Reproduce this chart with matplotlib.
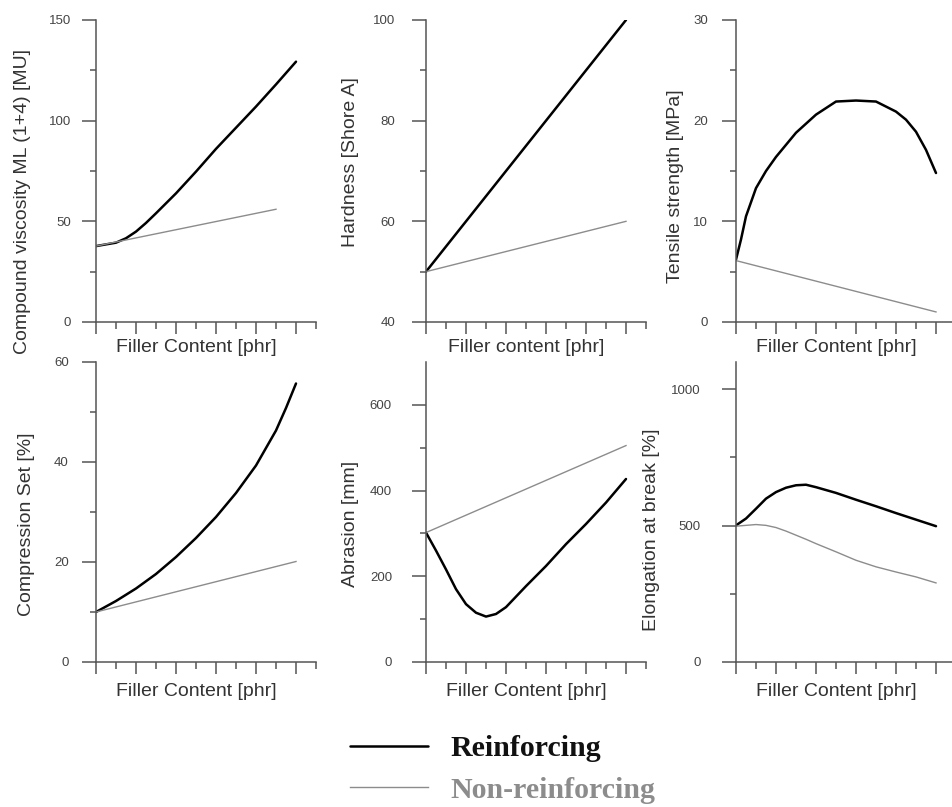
"""
Effect of reinforcing vs. non-reinforcing fillers on rubber properties
six small panels + a common legend at the bottom
"""

import numpy as np
import matplotlib
matplotlib.use('Agg')
import matplotlib.pyplot as plt
from matplotlib.ticker import FixedLocator, NullFormatter

plt.rcParams['font.family'] = ['Liberation Sans', 'DejaVu Sans']

# ---- data (filler content in arbitrary units 0..10) ----
visc_x = [0, 1, 1.5, 2, 2.5, 3, 4, 5, 6, 7, 8, 9, 10]
visc_reinf = [37.7, 39.4, 41.6, 44.9, 49.2, 54.0, 63.9, 74.7, 86.0, 96.5, 107.0, 118.0, 129.3]
visc_nonreinf_x = [0, 9]
visc_nonreinf = [37.7, 56.0]

hard_x = [0, 10]
hard_reinf = [50, 100]
hard_nonreinf = [50, 60]

tens_x = [0, 0.25, 0.5, 1, 1.5, 2, 3, 4, 5, 6, 7, 8, 8.5, 9, 9.5, 10]
tens_reinf = [6.2, 8.2, 10.5, 13.3, 15.0, 16.4, 18.8, 20.6, 21.9, 22.0, 21.9, 20.9, 20.1, 18.9, 17.1, 14.8]
tens_nonreinf_x = [0, 10]
tens_nonreinf = [6.1, 1.0]

comp_x = [0, 1, 2, 3, 4, 5, 6, 7, 8, 9, 9.5, 10]
comp_reinf = [10.0, 12.2, 14.7, 17.6, 21.0, 24.8, 29.0, 33.8, 39.3, 46.3, 50.8, 55.7]
comp_nonreinf_x = [0, 10]
comp_nonreinf = [10, 20.1]

abr_x = [0, 0.5, 1, 1.5, 2, 2.5, 3, 3.5, 4, 5, 6, 7, 8, 9, 10]
abr_reinf = [302, 260, 216, 170, 135, 115, 106, 112, 128, 177, 224, 275, 322, 372, 427]
abr_nonreinf_x = [0, 10]
abr_nonreinf = [302, 505]

elong_x = [0, 0.5, 1, 1.5, 2, 2.5, 3, 3.5, 4, 5, 6, 7, 8, 9, 10]
elong_reinf = [501, 526, 562, 599, 623, 639, 648, 650, 641, 620, 595, 571, 546, 522, 498]
elong_nonreinf = [498, 501, 504, 501, 493, 480, 465, 450, 434, 404, 373, 349, 330, 312, 290]

# ---- panel definitions ----
panels = [
    dict(ylabel="Compound viscosity ML (1+4) [MU]", xlabel="Filler Content [phr]",
         ylim=(0, 150), major=[0, 50, 100, 150], minor=[25, 75, 125],
         r=(visc_x, visc_reinf), n=(visc_nonreinf_x, visc_nonreinf),
         lab_xy=(-0.336, 0.40), pad=9),
    dict(ylabel="Hardness [Shore A]", xlabel="Filler content [phr]",
         ylim=(40, 100), major=[40, 60, 80, 100], minor=[50, 70, 90],
         r=(hard_x, hard_reinf), n=(hard_x, hard_nonreinf),
         lab_xy=(-0.345, 0.53), pad=13),
    dict(ylabel="Tensile strength [MPa]", xlabel="Filler Content [phr]",
         ylim=(0, 30), major=[0, 10, 20, 30], minor=[5, 15, 25],
         r=(tens_x, tens_reinf), n=(tens_nonreinf_x, tens_nonreinf),
         lab_xy=(-0.273, 0.45), pad=11),
    dict(ylabel="Compression Set [%]", xlabel="Filler Content [phr]",
         ylim=(0, 60), major=[0, 20, 40, 60], minor=[10, 30, 50],
         r=(comp_x, comp_reinf), n=(comp_nonreinf_x, comp_nonreinf),
         lab_xy=(-0.318, 0.46), pad=10.5),
    dict(ylabel="Abrasion [mm]", xlabel="Filler Content [phr]",
         ylim=(0, 700), major=[0, 200, 400, 600], minor=[100, 300, 500],
         r=(abr_x, abr_reinf), n=(abr_nonreinf_x, abr_nonreinf),
         lab_xy=(-0.341, 0.46), pad=15.5),
    dict(ylabel="Elongation at break [%]", xlabel="Filler Content [phr]",
         ylim=(0, 1100), major=[0, 500, 1000], minor=[250, 750],
         r=(elong_x, elong_reinf), n=(elong_x, elong_nonreinf),
         lab_xy=(-0.382, 0.44), pad=16.5),
]

W, H = 953, 807
lefts = [96, 426, 736]
rows = [(322, 302), (662, 300)]  # (pixel of y-axis bottom, height)
ax_w = 220

AXIS_COL = '#555555'
TEXT_COL = '#333333'

fig = plt.figure(figsize=(W / 100, H / 100), dpi=100)

lines = None
for i, p in enumerate(panels):
    row, col = divmod(i, 3)
    ybot, h = rows[row]
    ax = fig.add_axes([lefts[col] / W, (H - ybot) / H, ax_w / W, h / H])

    lr, = ax.plot(p['r'][0], p['r'][1], color='black', lw=1.8,
                  solid_capstyle='round', solid_joinstyle='round')
    ln, = ax.plot(p['n'][0], p['n'][1], color='#8c8c8c', lw=1.0)
    if lines is None:
        lines = (lr, ln)

    ax.set_xlim(0, 11)
    ax.set_ylim(*p['ylim'])

    for s in ['top', 'right']:
        ax.spines[s].set_visible(False)
    for s in ['left', 'bottom']:
        ax.spines[s].set_color(AXIS_COL)
        ax.spines[s].set_linewidth(1.1)

    ax.xaxis.set_major_locator(FixedLocator([0, 2, 4, 6, 8, 10]))
    ax.xaxis.set_minor_locator(FixedLocator([1, 3, 5, 7, 9, 11]))
    ax.xaxis.set_major_formatter(NullFormatter())
    ax.yaxis.set_major_locator(FixedLocator(p['major']))
    ax.yaxis.set_minor_locator(FixedLocator(p['minor']))
    ax.yaxis.set_minor_formatter(NullFormatter())

    ax.tick_params(axis='x', which='major', direction='out', length=8.5, width=1.1, color=AXIS_COL)
    ax.tick_params(axis='x', which='minor', direction='out', length=5, width=1.1, color=AXIS_COL)
    ax.tick_params(axis='y', which='major', direction='out', length=10, width=1.1, color=AXIS_COL,
                   labelsize=9.5, labelcolor='#444444', pad=p['pad'] - 1)
    ax.tick_params(axis='y', which='minor', direction='out', length=4.5, width=1.1, color=AXIS_COL)

    ax.set_ylabel(p['ylabel'], fontsize=14, color=TEXT_COL, va='center')
    ax.yaxis.set_label_coords(*p['lab_xy'])
    ax.set_xlabel(p['xlabel'], fontsize=14, color=TEXT_COL, va='center')
    ax.xaxis.set_label_coords(0.455, -0.086 if row == 0 else -0.1)

# common legend at the bottom
leg = fig.legend(lines, ['Reinforcing', 'Non-reinforcing'],
                 loc='upper left', bbox_to_anchor=(350 / W, 1 - 735 / H),
                 frameon=False, borderpad=0, borderaxespad=0,
                 handlelength=2.61, handletextpad=0.74, labelspacing=0.5,
                 prop=dict(family='Liberation Serif', weight='bold', size=21.5))
leg.get_texts()[0].set_color('#111111')
leg.get_texts()[1].set_color('#8c8c8c')

fig.savefig('out.png', dpi=100)
plt.close(fig)
